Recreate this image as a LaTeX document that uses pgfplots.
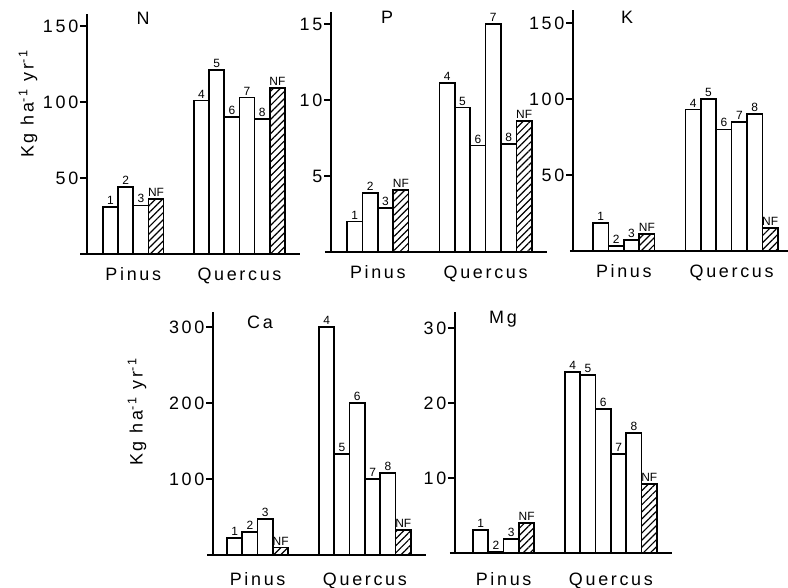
\documentclass[border=0pt]{standalone}
\usepackage{fontspec}
\setmainfont{Liberation Sans}[LetterSpace=15]
\newfontfamily\labfont{Liberation Sans}
\usepackage{pgfplots}
\pgfplotsset{compat=1.18}
\usetikzlibrary{patterns.meta}
\pgfplotsset{
  panel/.style={
    axis x line=bottom, axis y line=left,
    axis line style={line width=1.7bp,-},
    clip=false, ymin=0,
    xtick={2.5,9.5}, xticklabels={Pinus,Quercus},
    x tick style={draw=none},
    xticklabel style={font=\fontsize{18}{20}\selectfont, anchor=base},
    tick align=outside, major tick length=7bp,
    y tick style={line width=1.5bp, black},
    yticklabel style={font=\fontsize{18}{20}\selectfont, inner sep=1.5bp},
    /pgf/number format/assume math mode=true,
  },
  wbar/.style={ybar, bar width=1, bar shift=0pt, fill=white, draw=black, line width=1.7bp,
    point meta=explicit symbolic, nodes near coords,
    nodes near coords style={font=\labfont\fontsize{12}{13}\selectfont, inner sep=1.5bp, anchor=south}},
  hbar/.style={wbar, fill=none, pattern={Lines[angle=45,distance=5bp,line width=1.2bp]}},
}
\newcommand\ttl[1]{\fontsize{18}{20}\selectfont #1}
\begin{document}
\begin{tikzpicture}
\useasboundingbox (0bp,0bp) rectangle (788bp,588bp);
% ---------- N ----------
\begin{axis}[panel, at={(87bp,334bp)}, anchor=south west, x=15.17bp, y=1.52bp,
  xmin=-0.55, xmax=13.5, ymax=158, ytick={50,100,150}, xticklabel style={yshift=-20bp}]
\addplot[wbar] table[x=x,y=y,meta=l]{
x y l
1 31 1
2 44 2
3 32 3
7 101 4
8 121 5
9 90 6
10 103 7
11 89 8
};
\addplot[hbar] table[x=x,y=y,meta=l]{
x y l
4 36 NF
12 109 NF
};
\draw[line width=1.7bp] (axis cs:-1.0,0) -- (axis cs:-0.55,0);
\end{axis}
% ---------- P ----------
\begin{axis}[panel, at={(331bp,336bp)}, anchor=south west, x=15.4bp, y=15.2bp,
  xmin=-0.54, xmax=13.5, ymax=15.8, ytick={5,10,15}, xticklabel style={yshift=-20bp}]
\addplot[wbar] table[x=x,y=y,meta=l]{
x y l
1 2.0 1
2 3.9 2
3 2.9 3
7 11.1 4
8 9.5 5
9 7.0 6
10 15.0 7
11 7.1 8
};
\addplot[hbar] table[x=x,y=y,meta=l]{
x y l
4 4.1 NF
12 8.6 NF
};
\draw[line width=1.7bp] (axis cs:-0.93,0) -- (axis cs:-0.54,0);
\end{axis}
% ---------- K ----------
\begin{axis}[panel, at={(573bp,337bp)}, anchor=south west, x=15.4bp, y=1.52bp,
  xmin=-0.8, xmax=13.2, ymax=158.5, ytick={50,100,150}, xticklabel style={yshift=-20bp}]
\addplot[wbar] table[x=x,y=y,meta=l]{
x y l
1 18.5 1
2 3.5 2
3 7.2 3
7 93 4
8 100 5
9 80 6
10 85 7
11 90 8
};
\addplot[hbar] table[x=x,y=y,meta=l]{
x y l
4 11 NF
12 15 NF
};
\draw[line width=1.7bp] (axis cs:-1.0,0) -- (axis cs:-0.8,0);
\end{axis}
% ---------- Ca ----------
\begin{axis}[panel, at={(213bp,33bp)}, anchor=south west, x=15.33bp, y=0.76bp,
  xmin=-0.41, xmax=13.5, ymax=320, ytick={100,200,300}, xticklabel style={yshift=-23bp}]
\addplot[wbar] table[x=x,y=y,meta=l]{
x y l
1 22 1
2 30 2
3 47 3
7 300 4
8 133 5
9 200 6
10 100 7
11 108 8
};
\addplot[hbar] table[x=x,y=y,meta=l]{
x y l
4 10 NF
12 33 NF
};
\draw[line width=1.7bp] (axis cs:-0.8,0) -- (axis cs:-0.41,0);
\end{axis}
% ---------- Mg ----------
\begin{axis}[panel, at={(455bp,35bp)}, anchor=south west, x=15.33bp, y=7.5bp,
  xmin=-0.67, xmax=13.5, ymax=32.1, ytick={10,20,30}, xticklabel style={yshift=-25bp}]
\addplot[wbar] table[x=x,y=y,meta=l]{
x y l
1 3.1 1
2 0.15 2
3 1.9 3
7 24.1 4
8 23.7 5
9 19.2 6
10 13.2 7
11 16 8
};
\addplot[hbar] table[x=x,y=y,meta=l]{
x y l
4 4.0 NF
12 9.2 NF
};
\draw[line width=1.7bp] (axis cs:-1.0,0) -- (axis cs:-0.67,0);
\end{axis}
% titles and axis labels
\node at (143bp,570bp) {\ttl{N}};
\node at (387bp,571bp) {\ttl{P}};
\node at (627bp,571bp) {\ttl{K}};
\node at (260bp,266bp) {\ttl{Ca}};
\node at (503bp,269bp) {\ttl{Mg}};
\node[rotate=90] at (28bp,484bp) {\ttl{Kg ha\textsuperscript{-1} yr\textsuperscript{-1}}};
\node[rotate=90] at (137bp,176bp) {\ttl{Kg ha\textsuperscript{-1} yr\textsuperscript{-1}}};
\end{tikzpicture}
\end{document}
